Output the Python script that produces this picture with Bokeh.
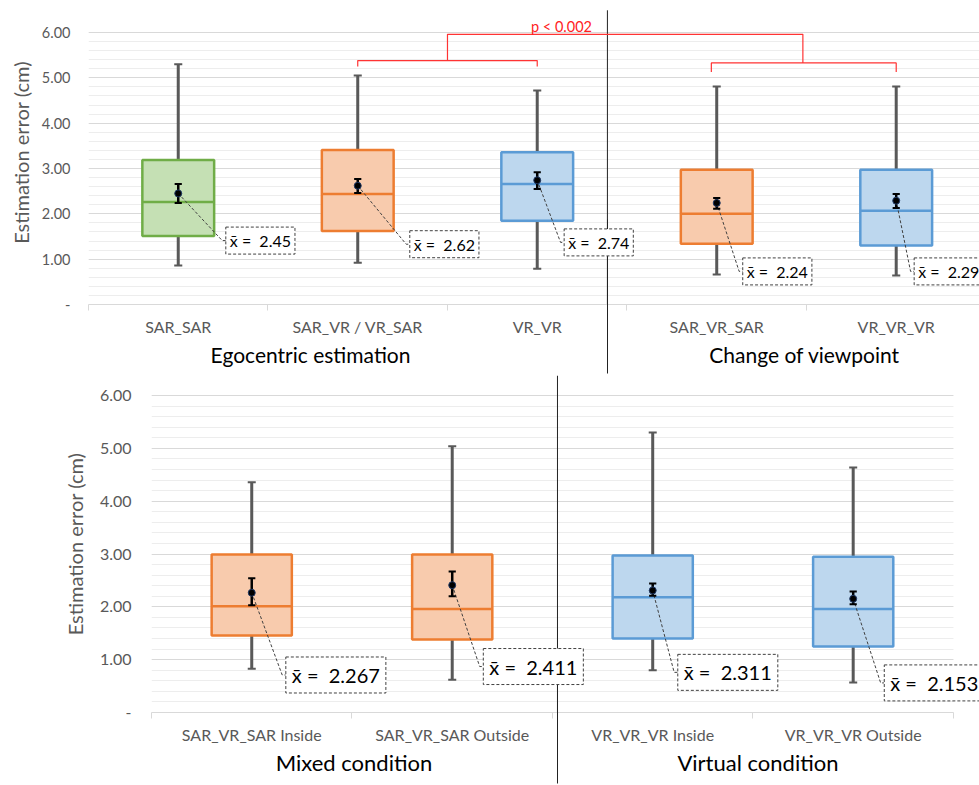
from bokeh.plotting import figure
from bokeh.models import Range1d, FixedTicker, LinearAxis, Label, NumeralTickFormatter, BoxAnnotation
from bokeh.embed import file_html
from bokeh.resources import INLINE

# ---------------- data: top chart ----------------
top_categories = ["SAR_SAR", "SAR_VR / VR_SAR", "VR_VR", "SAR_VR_SAR", "VR_VR_VR"]
top_groups = ["Egocentric estimation", "Change of viewpoint"]
top_min = [0.86, 0.92, 0.79, 0.66, 0.64]
top_q1 = [1.51, 1.62, 1.85, 1.34, 1.30]
top_median = [2.26, 2.44, 2.66, 2.00, 2.07]
top_q3 = [3.19, 3.41, 3.36, 2.97, 2.97]
top_max = [5.30, 5.05, 4.72, 4.81, 4.81]
top_mean = [2.45, 2.62, 2.74, 2.24, 2.29]
top_ci_low = [2.24, 2.46, 2.55, 2.11, 2.13]
top_ci_high = [2.66, 2.77, 2.92, 2.35, 2.44]
top_kind = ["green", "orange", "blue", "orange", "blue"]
top_p_text = "p < 0.002"

# ---------------- data: bottom chart ----------------
bot_categories = ["SAR_VR_SAR Inside", "SAR_VR_SAR Outside", "VR_VR_VR Inside", "VR_VR_VR Outside"]
bot_groups = ["Mixed condition", "Virtual condition"]
bot_min = [0.83, 0.62, 0.80, 0.57]
bot_q1 = [1.46, 1.38, 1.40, 1.25]
bot_median = [2.01, 1.96, 2.18, 1.96]
bot_q3 = [2.99, 2.99, 2.97, 2.95]
bot_max = [4.36, 5.04, 5.30, 4.64]
bot_mean = [2.267, 2.411, 2.311, 2.153]
bot_ci_low = [2.03, 2.20, 2.21, 2.05]
bot_ci_high = [2.54, 2.67, 2.44, 2.29]
bot_kind = ["orange", "orange", "blue", "blue"]

y_ticks = [0, 1, 2, 3, 4, 5, 6]
y_title = "Estimation error (cm)"

# ---------------- style ----------------
FONT = "Lato"
GRAY = "#595959"
FILL = {"green": "#C5E0B4", "orange": "#F8CBAD", "blue": "#BDD7EE"}
EDGE = {"green": "#70AD47", "orange": "#ED7D31", "blue": "#5B9BD5"}

top_cfg = dict(width=979, height=375, x_end=4.964, y_end=6.706, plot_end=None,
               min_left=88, min_right=0, min_bottom=71,
               group_x=[1.237, 3.99], sep_x=2.891, sep_top=6.49, sep_out=4,
               lab_dx=[0.265, 0.29, 0.15, 0.145, 0.10], lab_y=[1.41, 1.33, 1.37, 0.73, 0.73],
               decimals=2, lab_size="16px", lab_pad=4,
               ytick_size="14.5px", ytick_standoff=18, ytitle_size="20px", ytitle_standoff=6,
               cat_size="16px", cat_standoff=6, grp_size="21px", grp_standoff=3,
               box_w=0.40, cap_w=0.045, err_cap=0.02)
bot_cfg = dict(width=979, height=410, x_end=4.13, y_end=6.38, plot_end=4.0,
               min_left=151, min_right=0, min_bottom=73,
               group_x=[1.01, 3.025], sep_x=2.025, sep_top=6.38, sep_out=5,
               lab_dx=[0.17, 0.155, 0.125, 0.155], lab_y=[0.71, 0.87, 0.76, 0.56],
               decimals=3, lab_size="20px", lab_pad=6,
               ytick_size="16px", ytick_standoff=20, ytitle_size="20px", ytitle_standoff=10,
               cat_size="16px", cat_standoff=6, grp_size="22px", grp_standoff=2,
               box_w=0.40, cap_w=0.04, err_cap=0.018)


def build(cats, groups, vmin, q1, med, q3, vmax, mean, lo, hi, kind, cfg):
    n = len(cats)
    xs = [i + 0.5 for i in range(n)]
    p = figure(width=cfg["width"], height=cfg["height"],
               x_range=Range1d(0, cfg["x_end"]), y_range=Range1d(0, cfg["y_end"]),
               x_axis_type=None, toolbar_location=None, output_backend="svg",
               min_border_left=cfg["min_left"], min_border_right=cfg["min_right"],
               min_border_top=0, min_border_bottom=cfg["min_bottom"])
    p.outline_line_color = None
    p.background_fill_color = "white"
    p.border_fill_color = "white"

    # y axis and grid
    minor = [round(i * 0.2, 1) for i in range(31)]
    yt = FixedTicker(ticks=y_ticks, minor_ticks=minor)
    ya = p.yaxis[0]
    ya.ticker = yt
    ya.formatter = NumeralTickFormatter(format="0.00")
    ya.major_label_overrides = {0: "-"}
    ya.axis_line_color = None
    ya.major_tick_line_color = None
    ya.minor_tick_line_color = None
    ya.major_tick_out = 0
    ya.minor_tick_out = 0
    ya.major_label_standoff = cfg["ytick_standoff"]
    ya.major_label_text_font = FONT
    ya.major_label_text_font_size = cfg["ytick_size"]
    ya.major_label_text_color = GRAY
    ya.axis_label = y_title
    ya.axis_label_text_font = FONT
    ya.axis_label_text_font_size = cfg["ytitle_size"]
    ya.axis_label_text_font_style = "normal"
    ya.axis_label_text_color = GRAY
    ya.axis_label_standoff = cfg["ytitle_standoff"]
    p.ygrid.ticker = yt
    p.ygrid.grid_line_color = "#D9D9D9"
    p.ygrid.minor_grid_line_color = "#EDEDED"

    # hide grid beyond the plot area (bottom chart)
    if cfg["plot_end"] is not None:
        p.add_layout(BoxAnnotation(left=cfg["plot_end"], fill_color="white", fill_alpha=1.0,
                                   line_color=None, level="underlay"))

    # category axis
    cat_axis = LinearAxis(ticker=FixedTicker(ticks=xs, minor_ticks=list(range(n + 1))),
                          major_label_overrides={x: c for x, c in zip(xs, cats)})
    if cfg["plot_end"] is not None:
        cat_axis.bounds = (0, cfg["plot_end"])
    cat_axis.axis_line_color = "#D9D9D9"
    cat_axis.major_tick_line_color = None
    cat_axis.major_tick_out = 0
    cat_axis.major_tick_in = 0
    cat_axis.minor_tick_line_color = "#D9D9D9"
    cat_axis.minor_tick_out = 6
    cat_axis.minor_tick_in = 0
    cat_axis.major_label_text_font = FONT
    cat_axis.major_label_text_font_size = cfg["cat_size"]
    cat_axis.major_label_text_color = GRAY
    cat_axis.major_label_standoff = cfg["cat_standoff"]
    p.add_layout(cat_axis, "below")

    # group axis
    grp_axis = LinearAxis(ticker=FixedTicker(ticks=cfg["group_x"], minor_ticks=[]),
                          major_label_overrides={x: g for x, g in zip(cfg["group_x"], groups)})
    grp_axis.axis_line_color = None
    grp_axis.major_tick_line_color = None
    grp_axis.minor_tick_line_color = None
    grp_axis.major_tick_out = 0
    grp_axis.major_tick_in = 0
    grp_axis.minor_tick_out = 0
    grp_axis.minor_tick_in = 0
    grp_axis.major_label_text_font = FONT
    grp_axis.major_label_text_font_size = cfg["grp_size"]
    grp_axis.major_label_text_color = "black"
    grp_axis.major_label_standoff = cfg["grp_standoff"]
    p.add_layout(grp_axis, "below")

    # outermost axis carrying only the group separator as a tick
    sep_axis = LinearAxis(ticker=FixedTicker(ticks=[], minor_ticks=[cfg["sep_x"]]))
    sep_axis.axis_line_color = None
    sep_axis.major_tick_line_color = None
    sep_axis.major_tick_out = 0
    sep_axis.major_tick_in = 0
    sep_axis.major_label_text_font_size = "0px"
    sep_axis.major_label_standoff = 0
    sep_axis.minor_tick_line_color = "#222222"
    sep_axis.minor_tick_in = 150
    sep_axis.minor_tick_out = cfg["sep_out"]
    p.add_layout(sep_axis, "below")

    # separator inside the frame
    p.segment(x0=[cfg["sep_x"]], y0=[0], x1=[cfg["sep_x"]], y1=[cfg["sep_top"]],
              line_color="#222222", line_width=1)

    fills = [FILL[k] for k in kind]
    edges = [EDGE[k] for k in kind]
    bw = cfg["box_w"]
    cw = cfg["cap_w"]

    # whiskers
    p.segment(x0=xs, y0=q3, x1=xs, y1=vmax, line_color=GRAY, line_width=3)
    p.segment(x0=xs, y0=vmin, x1=xs, y1=q1, line_color=GRAY, line_width=3)
    p.segment(x0=[x - cw / 2 for x in xs], y0=vmax, x1=[x + cw / 2 for x in xs], y1=vmax,
              line_color=GRAY, line_width=2)
    p.segment(x0=[x - cw / 2 for x in xs], y0=vmin, x1=[x + cw / 2 for x in xs], y1=vmin,
              line_color=GRAY, line_width=2)
    # boxes
    p.vbar(x=xs, width=bw, top=q3, bottom=q1, fill_color=fills, line_color=edges, line_width=2.5)
    p.segment(x0=[x - bw / 2 for x in xs], y0=med, x1=[x + bw / 2 for x in xs], y1=med,
              line_color=edges, line_width=2.5)

    # leader lines to the mean labels
    lab_x = [x + d for x, d in zip(xs, cfg["lab_dx"])]
    lxs = [[x, lx - cfg["err_cap"], lx] for x, lx in zip(xs, lab_x)]
    lys = [[m, ly, ly] for m, ly in zip(mean, cfg["lab_y"])]
    p.multi_line(xs=lxs, ys=lys, line_color="#404040", line_width=1, line_dash="3 2")

    # mean with error bars
    ec = cfg["err_cap"]
    p.segment(x0=xs, y0=lo, x1=xs, y1=hi, line_color="black", line_width=2.5)
    p.segment(x0=[x - ec for x in xs], y0=lo, x1=[x + ec for x in xs], y1=lo, line_color="black", line_width=2)
    p.segment(x0=[x - ec for x in xs], y0=hi, x1=[x + ec for x in xs], y1=hi, line_color="black", line_width=2)
    p.scatter(x=xs, y=mean, size=7, fill_color="black", line_color="#1F3864")

    # mean labels
    d = cfg["decimals"]
    for lx, ly, m in zip(lab_x, cfg["lab_y"], mean):
        p.add_layout(Label(x=lx, y=ly, text="x\u0304 =\u00a0 " + f"{m:.{d}f}",
                           text_align="left", text_baseline="middle",
                           text_font=FONT, text_font_size=cfg["lab_size"], text_color="black",
                           background_fill_color="white", border_line_color="#404040",
                           border_line_dash="3 2", border_line_width=1, padding=cfg["lab_pad"]))
    return p, xs


p_top, xs_top = build(top_categories, top_groups, top_min, top_q1, top_median, top_q3, top_max,
                      top_mean, top_ci_low, top_ci_high, top_kind, top_cfg)

# significance bracket (top chart)
left_y, right_y, top_y = 5.38, 5.33, 5.96
l0, l1 = xs_top[1], xs_top[2]
r0, r1 = xs_top[3] - 0.03, xs_top[4]
lm, rm = (l0 + l1) / 2, 3.98
br_xs = [[l0, l0, l1, l1], [lm, lm, rm, rm], [r0, r0, r1, r1]]
br_ys = [[left_y - 0.13, left_y, left_y, left_y - 0.13], [left_y, top_y, top_y, right_y],
         [right_y - 0.2, right_y, right_y, right_y - 0.2]]
p_top.multi_line(xs=br_xs, ys=br_ys, line_color="#FF3333", line_width=1.2)
p_top.add_layout(Label(x=2.635, y=6.13, text=top_p_text, text_align="center", text_baseline="middle",
                       text_font=FONT, text_font_size="14.5px", text_color="#FF2222"))

p_bot, xs_bot = build(bot_categories, bot_groups, bot_min, bot_q1, bot_median, bot_q3, bot_max,
                      bot_mean, bot_ci_low, bot_ci_high, bot_kind, bot_cfg)

open("out.html", "w").write(file_html([p_top, p_bot], INLINE))
